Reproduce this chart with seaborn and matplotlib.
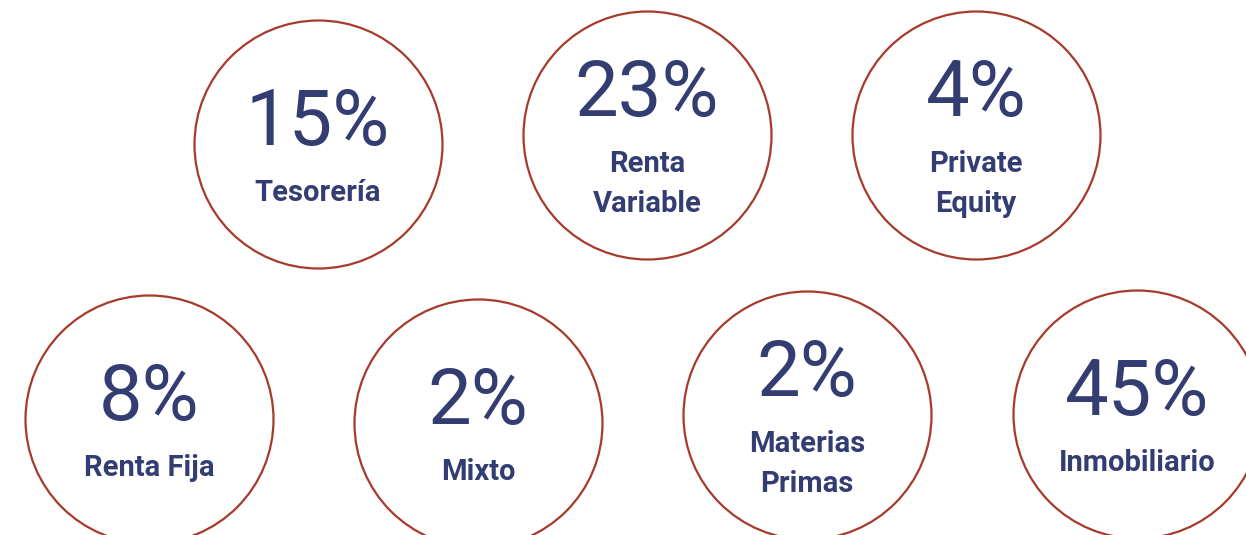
import pandas as pd
import matplotlib.pyplot as plt
import seaborn as sns

# datos
categorias = ["Tesorería", "Renta\nVariable", "Private\nEquity",
              "Renta Fija", "Mixto", "Materias\nPrimas", "Inmobiliario"]
porcentajes = [15, 23, 4, 8, 2, 2, 45]

# layout (pixels, y hacia abajo)
centro_x = [318, 647, 976, 149, 478, 807, 1137]
centro_y = [144, 135, 135, 419, 423, 415, 414]
radio = 124

AZUL = "#333d72"
ROJO = "#a63a2b"

sns.set_theme(style="white")
plt.rcParams["font.family"] = ["Roboto", "DejaVu Sans"]

df = pd.DataFrame({"cx": centro_x, "cy": centro_y,
                   "label": categorias, "pct": porcentajes})

fig = plt.figure(figsize=(12.46, 5.35), dpi=100)
ax = fig.add_axes([0, 0, 1, 1])

# tamaño del marcador: diametro en px -> puntos
diam_pt = 2 * radio * 72 / 100
sns.scatterplot(data=df, x="cx", y="cy", s=diam_pt ** 2, marker="o",
                facecolor="white", edgecolor=ROJO, linewidth=1.6,
                legend=False, ax=ax)

for _, r in df.iterrows():
    lineas = r["label"].split("\n")
    if len(lineas) == 1:
        y_pct = r["cy"] + 1
        y_lab = r["cy"] + 57
    else:
        y_pct = r["cy"] - 19
        y_lab = r["cy"] + 37
    ax.text(r["cx"], y_pct, f"{r['pct']}%", ha="center", va="baseline",
            fontsize=56, color=AZUL)
    for i, linea in enumerate(lineas):
        ax.text(r["cx"], y_lab + i * 40, linea, ha="center", va="baseline",
                fontsize=21, fontweight="bold", color=AZUL)

ax.set_xlim(0, 1246)
ax.set_ylim(535, 0)
ax.axis("off")

fig.savefig("out.png", dpi=100, facecolor="white")
